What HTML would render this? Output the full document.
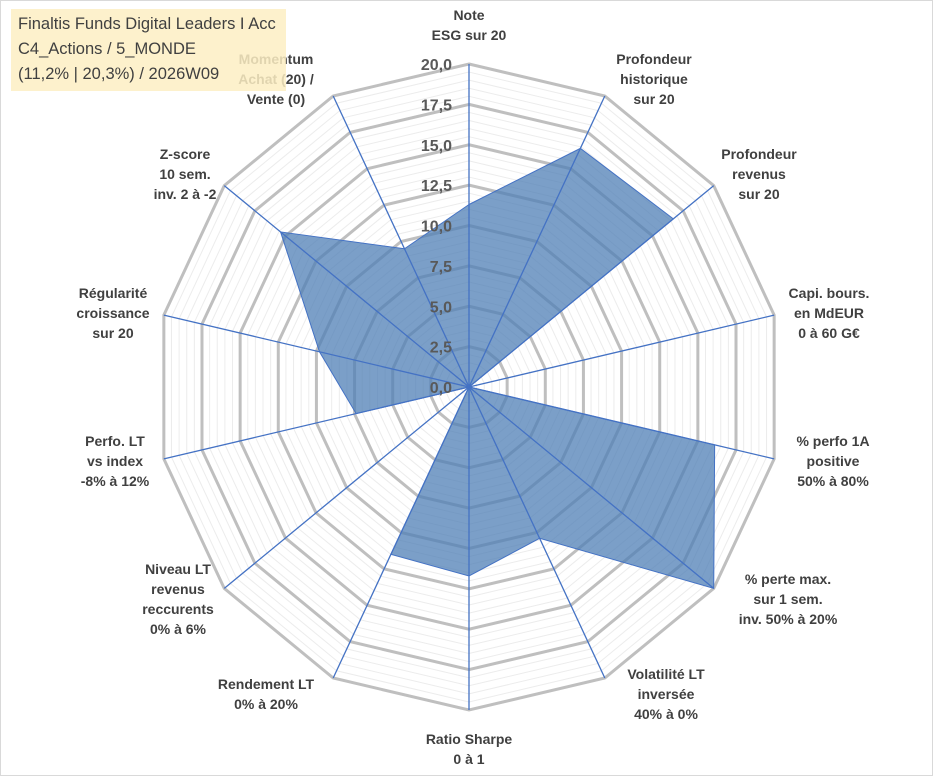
<!DOCTYPE html>
<html><head><meta charset="utf-8"><style>
body{margin:0;background:#fff;}
#wrap{position:relative;width:933px;height:776px;overflow:hidden;border:1px solid #d9d9d9;box-sizing:border-box;font-family:"Liberation Sans",sans-serif;}
.lbl{font-weight:bold;font-size:14px;fill:#404040;}
.tick{font-weight:bold;font-size:16px;fill:#595959;}
#title{position:absolute;left:10px;top:8px;width:262px;background:rgba(253,238,195,0.85);padding:3px 6px 4px 7px;font-size:16.5px;line-height:25px;color:#404040;white-space:nowrap;}
</style></head><body>
<div id="wrap">
<svg id="svg" width="933" height="776"></svg>
<div id="title">Finaltis Funds Digital Leaders I Acc<br>C4_Actions / 5_MONDE<br>(11,2% | 20,3%) / 2026W09</div>
</div>
<script>
const categories=[["Note","ESG sur 20"],["Profondeur","historique","sur 20"],["Profondeur","revenus","sur 20"],["Capi. bours.","en MdEUR","0 à 60 G€"],["% perfo 1A","positive","50% à 80%"],["% perte max.","sur 1 sem.","inv. 50% à 20%"],["Volatilité LT","inversée","40% à 0%"],["Ratio Sharpe","0 à 1"],["Rendement LT","0% à 20%"],["Niveau LT","revenus","reccurents","0% à 6%"],["Perfo. LT","vs index","-8% à 12%"],["Régularité","croissance","sur 20"],["Z-score","10 sem.","inv. 2 à -2"],["Momentum","Achat (20) /","Vente (0)"]];
const values=[11.3,16.4,16.7,0,16.1,20,10.4,11.7,11.5,0,7.4,9.8,15.4,9.5];
const tickLabels=["0,0","2,5","5,0","7,5","10,0","12,5","15,0","17,5","20,0"];
const maxV=20;
const svg=document.getElementById('svg');const NS='http://www.w3.org/2000/svg';
const cx=468,cy=386,RX=313,RY=323,n=categories.length;
const labelPos=[[468,14],[653,58],[758,153],[828,292],[832,440],[787,578],[665,673],[468,738],[265,683],[177,568],[114,440],[112,292],[184,153],[275,58]];
function ang(i){return -Math.PI/2+i*2*Math.PI/n;}
function pt(i,v){const f=v/maxV;return [cx+f*RX*Math.cos(ang(i)),cy+f*RY*Math.sin(ang(i))];}
function mk(t,a){const e=document.createElementNS(NS,t);for(const k in a)e.setAttribute(k,a[k]);svg.appendChild(e);return e;}
function ring(v,stroke,w){const p=[];for(let i=0;i<n;i++)p.push(pt(i,v).join(','));return mk('polygon',{points:p.join(' '),fill:'none',stroke:stroke,'stroke-width':w});}
for(let v=0.5;v<maxV;v+=0.5){if(Math.abs(v/2.5-Math.round(v/2.5))>0.01){const r=ring(v,'#ececec',1);}}
for(let k=1;k<tickLabels.length;k++){const r=ring(k*2.5,'#bfbfbf',3);}
const dp=values.map((v,i)=>pt(i,v).join(',')).join(' ');
const poly=mk('polygon',{points:dp,fill:'#4f7fb5','fill-opacity':'0.75',stroke:'#4472c4','stroke-width':1});

for(let i=0;i<n;i++){const e=pt(i,maxV);const l=mk('line',{x1:cx,y1:cy,x2:e[0],y2:e[1],stroke:'#4472c4','stroke-width':1.3});
}
tickLabels.forEach((t,k)=>{const y=cy-k*2.5/maxV*RY;const e=mk('text',{x:cx-17,y:y+6,'text-anchor':'end',class:'tick'});e.textContent=t;
});
categories.forEach((lines,i)=>{const x=labelPos[i][0],y0=labelPos[i][1]+5;
const t=mk('text',{x:x,y:y0,'text-anchor':'middle',class:'lbl'});

lines.forEach((ln,j)=>{const sp=document.createElementNS(NS,'tspan');sp.setAttribute('x',x);sp.setAttribute('y',y0+j*20);sp.textContent=ln;t.appendChild(sp);});});
</script>
</body></html>
